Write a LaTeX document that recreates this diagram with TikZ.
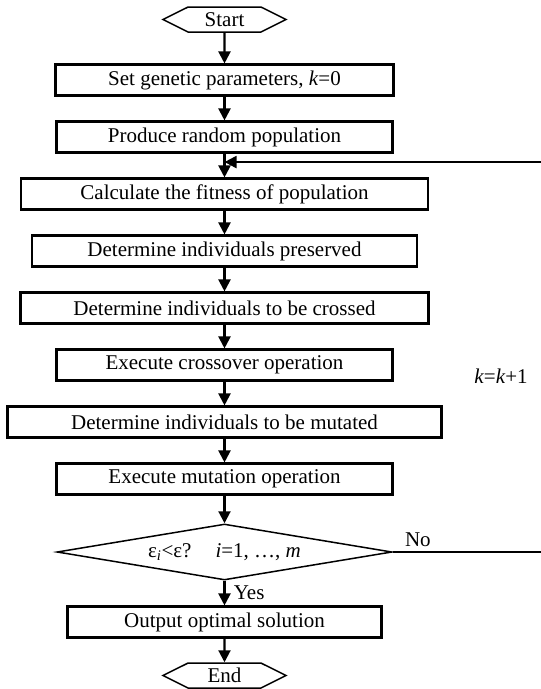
\documentclass[tikz,border=0pt]{standalone}
\usepackage{fontspec}
\setmainfont{Liberation Serif}
\usetikzlibrary{arrows.meta}
\usetikzlibrary{shapes.geometric,shapes.symbols,positioning}

\begin{document}
\begin{tikzpicture}[>={Triangle[width=12pt,length=12pt]},x=1pt,y=1pt,node distance=57pt,
                        line width=2.1pt,font=\fontsize{21}{24}\selectfont,
                        box node/.style={rectangle,draw,minimum height=31pt,inner sep=0pt},
                        term node/.style={signal,signal to=west and east,signal pointer angle=53,draw,line width=1.5pt,minimum width=123pt,minimum height=25pt,inner sep=0pt},
                        cond node/.style={diamond,aspect=6,draw,line width=1.5pt,minimum width=335pt,minimum height=56pt,inner sep=0pt}]

      \useasboundingbox (0,0) rectangle (541,-689);

      \node[term node] (1) at (224.5,-19.5) {Start};
      \node[box node,minimum width=338pt] (2) [node distance=60.5pt,below of=1] {Set genetic parameters, \textit{k}=0};
      \node[box node,minimum width=336pt] (3) [below of=2] {Produce random population};
      \node[box node,minimum width=407pt] (4) [below of=3] {Calculate the fitness of population};
      \node[box node,minimum width=385pt] (5) [below of=4] {Determine individuals preserved};
      \node[box node,minimum width=408pt] (6) [below of=5] {Determine individuals to be crossed};
      \node[box node,minimum width=336pt] (7) [below of=6] {Execute crossover operation};
      \node[box node,minimum width=434pt] (8) [below of=7] {Determine individuals to be mutated};
      \node[box node,minimum width=336pt] (9) [below of=8] {Execute mutation operation};
      \node[cond node] (10) [node distance=73pt,below of=9] {ε\textsubscript{\textit{i}}<ε?\hspace{24pt}\textit{i}=1, …, \textit{m}};
      \node[box node,minimum width=314pt] (11) [node distance=70pt,below of=10] {Output optimal solution};
      \node[term node] (12) [node distance=53.5pt,below of=11] {End};
      \node (13) at (501,-376) {\textit{k}=\textit{k}+1};

      \coordinate (back) at ([yshift=-8.5pt]3.south);
      \coordinate (loop) at (560,-552);

      \path[->]
        (1) edge (2)
        (2) edge (3)
        (3) edge (4)
        (4) edge (5)
        (5) edge (6)
        (6) edge (7)
        (7) edge (8)
        (8) edge (9)
        (9) edge (10)
        (10) edge node[right,xshift=5pt] {Yes} (11)
        (11) edge (12);
      \draw[->] (10.east) -- node[pos=0.15,above,yshift=1pt] {No} (loop) |- (back);
    \end{tikzpicture}
\end{document}
